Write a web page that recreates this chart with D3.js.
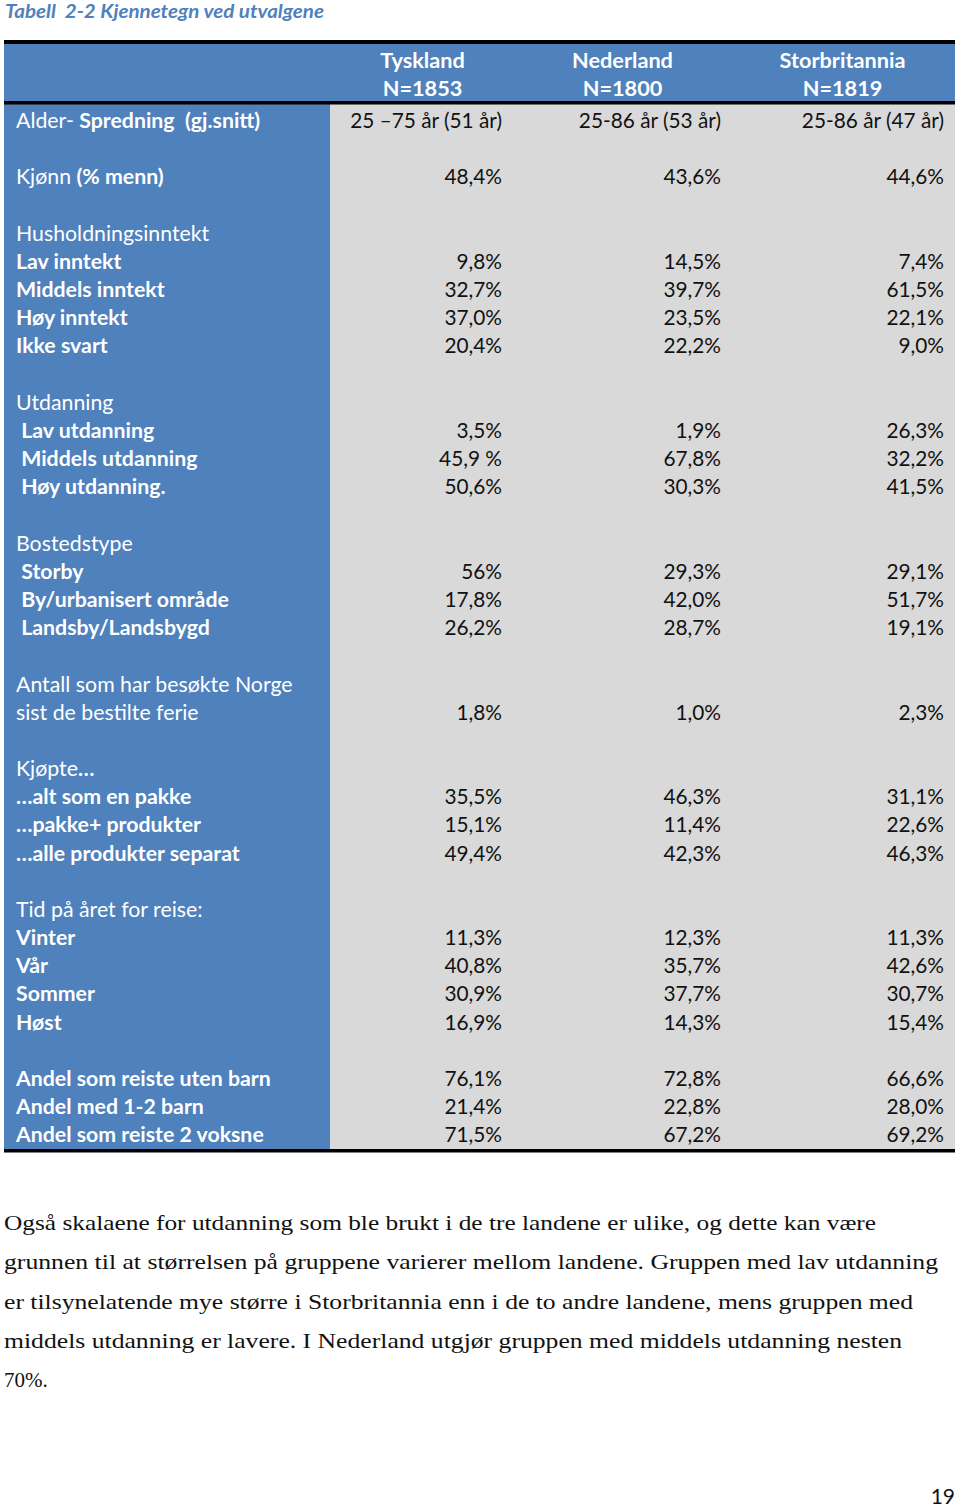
<!DOCTYPE html>
<html><head><meta charset="utf-8">
<script src="https://cdn.jsdelivr.net/npm/d3@7"></script>
<style>
html,body{margin:0;padding:0;background:#fff;}
svg{display:block;}
</style></head>
<body>
<script>
// ---------- DATA ----------
const title = "Tabell  2-2 Kjennetegn ved utvalgene";
const countries = ["Tyskland", "Nederland", "Storbritannia"];
const sampleSizes = ["N=1853", "N=1800", "N=1819"];
// row labels: each line is a list of [text, bold] segments
const rowLabels = [
  [["Alder- ",0],["Spredning  (gj.snitt)",1]],
  [],
  [["Kjønn ",0],["(% menn)",1]],
  [],
  [["Husholdningsinntekt",0]],
  [["Lav inntekt",1]],
  [["Middels inntekt",1]],
  [["Høy inntekt",1]],
  [["Ikke svart",1]],
  [],
  [["Utdanning",0]],
  [[" Lav utdanning",1]],
  [[" Middels utdanning",1]],
  [[" Høy utdanning.",1]],
  [],
  [["Bostedstype",0]],
  [[" Storby",1]],
  [[" By/urbanisert område",1]],
  [[" Landsby/Landsbygd",1]],
  [],
  [["Antall som har besøkte Norge",0]],
  [["sist de bestilte ferie",0]],
  [],
  [["Kjøpte",0],["…",1]],
  [["…alt som en pakke",1]],
  [["…pakke+ produkter",1]],
  [["…alle produkter separat",1]],
  [],
  [["Tid på året for reise:",0]],
  [["Vinter",1]],
  [["Vår",1]],
  [["Sommer",1]],
  [["Høst",1]],
  [],
  [["Andel som reiste uten barn",1]],
  [["Andel med 1-2 barn",1]],
  [["Andel som reiste 2 voksne",1]]
];
const tyskland = ["25 –75 år (51 år)",null,"48,4%",null,null,"9,8%","32,7%","37,0%","20,4%",null,null,"3,5%","45,9 %","50,6%",null,null,"56%","17,8%","26,2%",null,null,"1,8%",null,null,"35,5%","15,1%","49,4%",null,null,"11,3%","40,8%","30,9%","16,9%",null,"76,1%","21,4%","71,5%"];
const nederland = ["25-86 år (53 år)",null,"43,6%",null,null,"14,5%","39,7%","23,5%","22,2%",null,null,"1,9%","67,8%","30,3%",null,null,"29,3%","42,0%","28,7%",null,null,"1,0%",null,null,"46,3%","11,4%","42,3%",null,null,"12,3%","35,7%","37,7%","14,3%",null,"72,8%","22,8%","67,2%"];
const storbritannia = ["25-86 år (47 år)",null,"44,6%",null,null,"7,4%","61,5%","22,1%","9,0%",null,null,"26,3%","32,2%","41,5%",null,null,"29,1%","51,7%","19,1%",null,null,"2,3%",null,null,"31,1%","22,6%","46,3%",null,null,"11,3%","42,6%","30,7%","15,4%",null,"66,6%","28,0%","69,2%"];
const paragraph = [
  "Også skalaene for utdanning som ble brukt i de tre landene er ulike, og dette kan være",
  "grunnen til at størrelsen på gruppene varierer mellom landene. Gruppen med lav utdanning",
  "er tilsynelatende mye større i Storbritannia enn i de to andre landene, mens gruppen med",
  "middels utdanning er lavere. I Nederland utgjør gruppen med middels utdanning nesten",
  "70%."
];
const pageNumber = "19";

// ---------- LAYOUT ----------
const W = 960, H = 1507;
const BLUE = "#4f81bd", GRAY = "#d9d9d9";
const FONT = "Lato, 'Open Sans', sans-serif";
const tableLeft = 4, tableRight = 955, labelColRight = 330;
const colBounds = [330, 515, 730, 955];
const valueRight = [502, 721, 944];
const values = [tyskland, nederland, storbritannia];

const svg = d3.select("body").append("svg").attr("width", W).attr("height", H);

// row scale: line index -> baseline
const y = d3.scaleLinear().domain([0, rowLabels.length - 1]).range([128, 1142.3]);

// Title
svg.append("text").attr("x", 5).attr("y", 18)
  .attr("font-family", FONT).attr("font-size", 18).attr("font-weight", 700).attr("font-style", "italic")
  .attr("textLength", 319).attr("lengthAdjust", "spacingAndGlyphs")
  .attr("fill", BLUE).style("white-space", "pre").text(title);

// backgrounds
svg.append("rect").attr("x", tableLeft).attr("y", 44).attr("width", tableRight - tableLeft).attr("height", 58).attr("fill", BLUE);
svg.append("rect").attr("x", tableLeft).attr("y", 102).attr("width", labelColRight - tableLeft).attr("height", 1048).attr("fill", BLUE);
svg.append("rect").attr("x", labelColRight).attr("y", 102).attr("width", tableRight - labelColRight).attr("height", 1048).attr("fill", GRAY);

// rules
svg.append("rect").attr("x", tableLeft).attr("y", 40).attr("width", tableRight - tableLeft).attr("height", 4).attr("fill", "#000");
svg.append("rect").attr("x", tableLeft).attr("y", 101).attr("width", tableRight - tableLeft).attr("height", 3.5).attr("fill", "#000");
svg.append("rect").attr("x", tableLeft).attr("y", 1149).attr("width", tableRight - tableLeft).attr("height", 3.5).attr("fill", "#000");

// header
const hdr = svg.append("g").attr("font-family", FONT).attr("font-size", 21.7).attr("font-weight", 700)
  .attr("fill", "#fff").attr("text-anchor", "middle");
countries.forEach((c, i) => {
  const cx = (colBounds[i] + colBounds[i + 1]) / 2;
  hdr.append("text").attr("x", cx).attr("y", 68).text(c);
  hdr.append("text").attr("x", cx).attr("y", 96).text(sampleSizes[i]);
});

// labels
const lab = svg.append("g").attr("font-family", FONT).attr("font-size", 21.3).attr("fill", "#fff");
rowLabels.forEach((segs, i) => {
  if (!segs.length) return;
  const t = lab.append("text").attr("x", 16).attr("y", y(i)).style("white-space", "pre");
  segs.forEach(([s, b]) => t.append("tspan").attr("font-weight", b ? 700 : 400).text(s));
});

// values
const val = svg.append("g").attr("font-family", FONT).attr("font-size", 20.8).attr("fill", "#111").attr("text-anchor", "end");
values.forEach((arr, c) => {
  val.selectAll(null).data(arr.map((v, i) => ({v, i})).filter(d => d.v != null))
    .join("text").attr("x", valueRight[c]).attr("y", d => y(d.i)).style("white-space", "pre").text(d => d.v);
});

// paragraph
const paraWidths = [872, 934, 909, 898, null];
const p = svg.append("g").attr("font-family", "'Liberation Serif', 'DejaVu Serif', serif").attr("font-size", 21).attr("fill", "#111");
paragraph.forEach((line, i) => {
  const t = p.append("text").attr("x", 4).attr("y", 1230 + i * 39.3).text(line);
  if (paraWidths[i]) t.attr("textLength", paraWidths[i]).attr("lengthAdjust", "spacingAndGlyphs");
});

// page number
svg.append("text").attr("x", 955).attr("y", 1504).attr("text-anchor", "end")
  .attr("font-family", FONT).attr("font-size", 21).attr("fill", "#111").text(pageNumber);
</script>
</body></html>
